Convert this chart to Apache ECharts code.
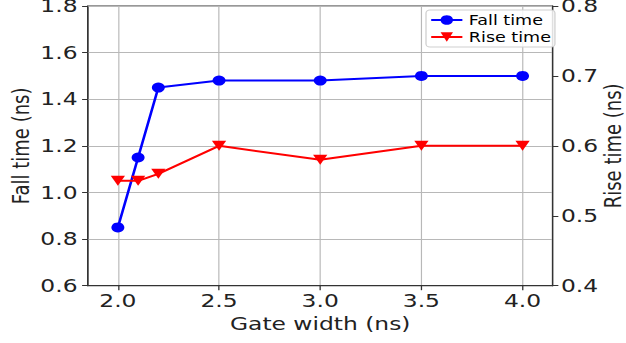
<!DOCTYPE html>
<html>
<head>
<meta charset="utf-8">
<script src="https://cdn.jsdelivr.net/npm/echarts@6/dist/echarts.min.js"></script>
<style>
  html, body { margin: 0; padding: 0; background: #fff; overflow: hidden; }
  #wrap { width: 626px; height: 343px; overflow: hidden; }
  /* the figure is laid out narrower and widened horizontally */
  #chart { width: 482px; height: 343px; transform: scaleX(1.2988); transform-origin: 0 0; }
</style>
</head>
<body>
<div id="wrap"><div id="chart"></div></div>
<script>
// Gate width sweep (ns)
const gateWidth = [2.0, 2.1, 2.2, 2.5, 3.0, 3.5, 4.0];
// Fall time (ns), left axis
const fallTime = [0.85, 1.15, 1.45, 1.48, 1.48, 1.50, 1.50];
// Rise time (ns), right axis
const riseTime = [0.55, 0.55, 0.56, 0.60, 0.58, 0.60, 0.60];
// x tick positions
const xTicks = [2.0, 2.5, 3.0, 3.5, 4.0];

const FONT = 'DejaVu Sans';
const INK = '#222';
const SPINE = '#333';
const GRID = '#b8b8b8';

const chart = echarts.init(document.getElementById('chart'), null, { renderer: 'svg' });

chart.setOption({
  animation: false,
  backgroundColor: '#fff',
  grid: {
    left: 67.7, right: 56.6, top: 6, bottom: 57.3,
    outerBoundsMode: 'none',
    containLabel: false,
    show: true, borderColor: SPINE, borderWidth: 1, backgroundColor: 'transparent'
  },
  legend: {
    orient: 'vertical',
    left: 328, top: 10,
    padding: [3, 3, 3, 3],
    itemWidth: 24, itemHeight: 12, itemGap: 3,
    backgroundColor: 'rgba(255,255,255,0.85)',
    borderColor: '#d0d0d0', borderWidth: 1, borderRadius: 3,
    textStyle: { fontFamily: FONT, fontSize: 13.5, color: '#000', lineHeight: 14 },
    data: ['Fall time', 'Rise time']
  },
  xAxis: {
    type: 'value',
    min: 1.852, max: 4.148,
    name: 'Gate width (ns)',
    nameLocation: 'middle',
    nameGap: 29,
    nameMoveOverlap: false,
    nameTextStyle: { fontFamily: FONT, fontSize: 18, color: INK },
    axisLine: { show: true, lineStyle: { color: SPINE, width: 1 } },
    axisTick: { show: true, inside: false, length: 4.5, customValues: xTicks, lineStyle: { color: SPINE } },
    axisLabel: {
      fontFamily: FONT, fontSize: 18, color: INK, margin: 6,
      customValues: xTicks,
      formatter: v => v.toFixed(1)
    },
    splitLine: { show: true, lineStyle: { color: GRID, width: 0.9 } }
  },
  yAxis: [
    {
      type: 'value',
      min: 0.6, max: 1.8, interval: 0.2,
      name: 'Fall time (ns)',
      nameLocation: 'middle',
      nameRotate: 90,
      nameGap: 42.5,
      nameMoveOverlap: false,
      nameTextStyle: { fontFamily: FONT, fontSize: 18, color: INK },
      axisLine: { show: true, lineStyle: { color: SPINE, width: 1 } },
      axisTick: { show: true, inside: false, length: 4.5, lineStyle: { color: SPINE } },
      axisLabel: { fontFamily: FONT, fontSize: 18, color: INK, margin: 8, formatter: v => v.toFixed(1) },
      splitLine: { show: true, lineStyle: { color: GRID, width: 0.9 } }
    },
    {
      type: 'value',
      position: 'right',
      min: 0.4, max: 0.8, interval: 0.1,
      name: 'Rise time (ns)',
      nameLocation: 'middle',
      nameRotate: 90,
      nameGap: 38,
      nameMoveOverlap: false,
      nameTextStyle: { fontFamily: FONT, fontSize: 18, color: INK },
      axisLine: { show: true, lineStyle: { color: SPINE, width: 1 } },
      axisTick: { show: true, inside: false, length: 4.5, lineStyle: { color: SPINE } },
      axisLabel: { fontFamily: FONT, fontSize: 18, color: INK, margin: 6.5, formatter: v => v.toFixed(1) },
      splitLine: { show: false }
    }
  ],
  series: [
    {
      name: 'Fall time',
      type: 'line',
      yAxisIndex: 0,
      data: gateWidth.map((x, i) => [x, fallTime[i]]),
      symbol: 'circle',
      symbolSize: 10,
      lineStyle: { color: '#0000ff', width: 2 },
      itemStyle: { color: '#0000ff' }
    },
    {
      name: 'Rise time',
      type: 'line',
      yAxisIndex: 1,
      data: gateWidth.map((x, i) => [x, riseTime[i]]),
      symbol: 'triangle',
      symbolRotate: 180,
      symbolSize: [11, 10],
      lineStyle: { color: '#ff0000', width: 2 },
      itemStyle: { color: '#ff0000' }
    }
  ]
});
</script>
</body>
</html>
